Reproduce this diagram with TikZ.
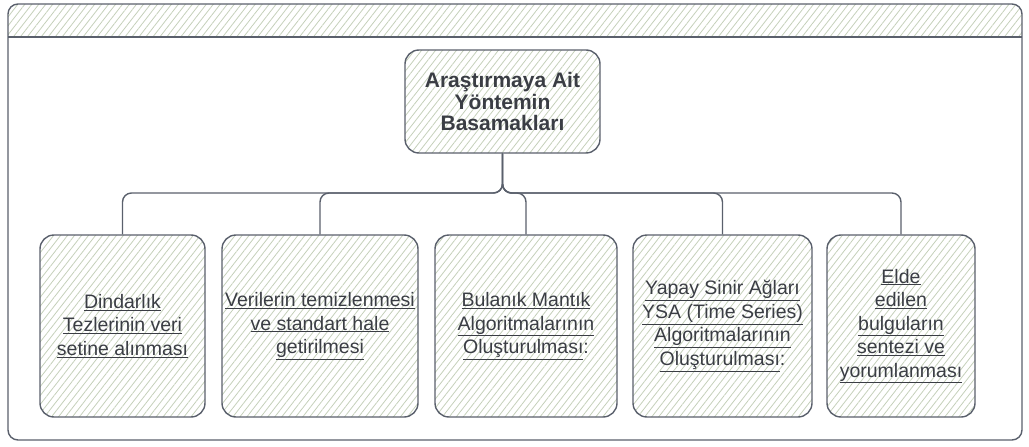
\documentclass[tikz,border=0pt]{standalone}
\usepackage{fontspec}
\setmainfont{Liberation Sans}
\usetikzlibrary{patterns.meta}
\definecolor{edge}{HTML}{5A606C}
\definecolor{hatch}{HTML}{C5D0BA}
\definecolor{ink}{HTML}{3A3D44}
\newcommand{\lnk}[1]{\underline{#1}}
\begin{document}
\begin{tikzpicture}[x=1pt,y=-1pt,
  hatched/.style={pattern={Lines[angle=52,distance=5.5pt,line width=0.8pt]},pattern color=hatch},
  stepbox/.style={hatched,draw=edge,line width=1.4pt,rounded corners=14pt,align=center,
    text=ink,inner sep=2pt,minimum height=182pt,font=\fontsize{19.5}{23.5}\selectfont},
  rootbox/.style={stepbox,minimum width=195pt,minimum height=103pt,
    font=\fontsize{21}{21.5}\selectfont\bfseries},
  link/.style={draw=edge,line width=1.4pt,rounded corners=9pt}]
\useasboundingbox (0,0) rectangle (1029,447);
% frame with header band
\path[hatched,rounded corners=10pt] (8,37) |- (1022,4) -- (1022,37);
\draw[edge,line width=1.4pt,rounded corners=10pt] (8,4) rectangle (1022,440);
\draw[edge,line width=1.4pt] (8,37) -- (1022,37);
% nodes
\node[rootbox] (root) at (502.5,101.5) {Araştırmaya Ait\\Yöntemin\\Basamakları};
\node[stepbox,minimum width=165pt] (s1) at (122.5,326) {\lnk{Dindarlık}\\\lnk{Tezlerinin veri}\\\lnk{setine alınması}};
\node[stepbox,minimum width=196pt] (s2) at (320,326) {\lnk{Verilerin temizlenmesi}\\\lnk{ve standart hale}\\\lnk{getirilmesi}};
\node[stepbox,minimum width=182pt] (s3) at (526,326) {\lnk{Bulanık Mantık}\\\lnk{Algoritmalarının}\\\lnk{Oluşturulması}:};
\node[stepbox,minimum width=179pt] (s4) at (722.5,326) {\lnk{Yapay Sinir Ağları}\\\lnk{YSA (Time Series)}\\\lnk{Algoritmalarının}\\\lnk{Oluşturulması}:};
\node[stepbox,minimum width=148pt] (s5) at (901,326) {\lnk{Elde}\\\lnk{edilen}\\\lnk{bulguların}\\\lnk{sentezi ve}\\\lnk{yorumlanması}};
\coordinate (fork) at (502.5,193);
% connectors
\foreach \n in {s1,s2,s3,s4,s5}
  \draw[link] (root.south) -- (fork) -| (\n.north);
\end{tikzpicture}
\end{document}
